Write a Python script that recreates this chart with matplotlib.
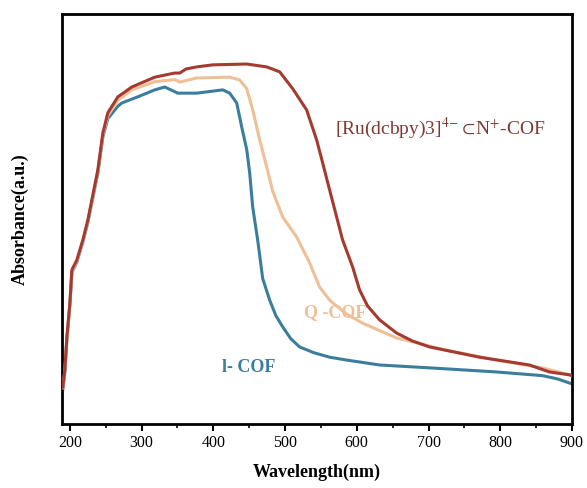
import matplotlib
matplotlib.use("Agg")
import matplotlib.pyplot as plt
from matplotlib.ticker import MultipleLocator

plt.rcParams['font.family'] = ['Liberation Serif', 'DejaVu Serif']
plt.rcParams['mathtext.fontset'] = 'stix'

# Wavelength (nm) and absorbance (a.u., arbitrary scale)
ru_wl = [190.2, 193.0, 195.8, 200.0, 202.8, 209.7, 218.1, 225.1, 239.0, 246.0, 252.9, 266.9,
         286.4, 318.4, 346.2, 353.2, 362.0, 376.9, 399.2, 446.5, 474.4, 492.5, 510.6, 530.1,
         544.0, 552.4, 562.1, 571.9, 580.2, 594.2, 603.9, 615.0, 631.8, 655.4, 677.0, 701.4,
         771.0, 840.7, 868.5, 896.4, 900.0]
ru_abs = [0.090, 0.132, 0.212, 0.295, 0.376, 0.400, 0.449, 0.498, 0.620, 0.710, 0.759, 0.798,
          0.822, 0.846, 0.856, 0.856, 0.866, 0.871, 0.876, 0.878, 0.871, 0.859, 0.818, 0.766,
          0.693, 0.637, 0.571, 0.505, 0.449, 0.383, 0.327, 0.288, 0.254, 0.222, 0.203, 0.188,
          0.163, 0.144, 0.127, 0.120, 0.118]

q_wl = [190.2, 193.0, 195.8, 200.0, 202.8, 209.7, 218.1, 225.1, 239.0, 246.0, 252.9, 266.9,
        286.4, 318.4, 346.2, 353.2, 376.9, 422.8, 436.8, 446.5, 454.9, 464.6, 474.4, 482.7,
        496.7, 516.2, 534.3, 548.2, 562.1, 585.8, 608.1, 655.4, 725.1, 794.7, 858.8, 896.4, 900.0]
q_abs = [0.088, 0.130, 0.208, 0.292, 0.372, 0.397, 0.446, 0.495, 0.616, 0.705, 0.752, 0.790,
         0.815, 0.835, 0.840, 0.834, 0.844, 0.846, 0.839, 0.818, 0.766, 0.693, 0.627, 0.568,
         0.505, 0.456, 0.393, 0.334, 0.302, 0.268, 0.246, 0.210, 0.180, 0.156, 0.137, 0.120, 0.118]

l_wl = [190.2, 193.0, 195.8, 200.0, 202.8, 209.7, 218.1, 225.1, 239.0, 246.0, 252.9, 266.9,
        272.4, 294.7, 318.4, 332.3, 350.4, 376.9, 413.1, 422.8, 432.6, 439.6, 446.5, 450.7,
        454.9, 461.8, 468.8, 478.6, 487.0, 496.7, 508.0, 520.3, 540.0, 562.1, 585.8, 631.8,
        701.4, 794.7, 858.8, 880.0, 896.4, 900.0]
l_abs = [0.085, 0.128, 0.205, 0.290, 0.370, 0.395, 0.444, 0.492, 0.612, 0.700, 0.745, 0.775,
         0.783, 0.798, 0.815, 0.822, 0.807, 0.807, 0.815, 0.807, 0.783, 0.724, 0.670, 0.612,
         0.529, 0.449, 0.355, 0.302, 0.265, 0.237, 0.208, 0.188, 0.174, 0.163, 0.156, 0.144,
         0.137, 0.127, 0.118, 0.110, 0.100, 0.098]

x_ticks = [200, 300, 400, 500, 600, 700, 800, 900]

c_blue = '#3b7d9c'
c_peach = '#efbf98'
c_red = '#a53b30'

fig = plt.figure(figsize=(5.87, 4.88), dpi=100)
ax = fig.add_axes([0.1056, 0.1311, 0.8688, 0.8402])

ax.plot(l_wl, l_abs, color=c_blue, lw=2.2, zorder=2, solid_joinstyle='round')
ax.plot(q_wl, q_abs, color=c_peach, lw=2.2, zorder=3, solid_joinstyle='round')
ax.plot(ru_wl, ru_abs, color=c_red, lw=2.2, zorder=4, solid_joinstyle='round')

ax.set_xlim(189, 900)
ax.set_ylim(0, 1)
ax.set_xticks(x_ticks)
ax.xaxis.set_minor_locator(MultipleLocator(50))
ax.set_yticks([])
ax.tick_params(axis='x', which='major', direction='out', length=5, width=1.5,
               labelsize=11.5, pad=3)
ax.tick_params(axis='x', which='minor', direction='out', length=3, width=1.2)
for s in ax.spines.values():
    s.set_linewidth(2.0)
    s.set_color('black')

ax.set_xlabel('Wavelength(nm)', fontsize=13, fontweight='bold', labelpad=9)
ax.set_ylabel('Absorbance(a.u.)', fontsize=13, fontweight='bold', labelpad=24)

ax.text(716, 0.722, r'[Ru(dcbpy)3]$^{4\!-}\!\subset\!$N$^{+}$-COF', color='#7e3a32',
        fontsize=14, ha='center', va='center')
ax.text(527, 0.271, 'Q -COF', color=c_peach, fontsize=13, fontweight='bold',
        ha='left', va='center')
ax.text(412, 0.139, 'l- COF', color=c_blue, fontsize=13, fontweight='bold',
        ha='left', va='center')

fig.savefig('out.png', dpi=100)
